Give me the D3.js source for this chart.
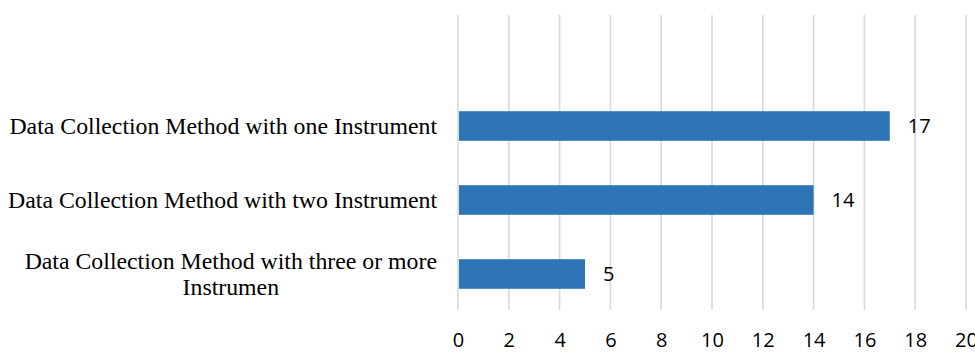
<!DOCTYPE html>
<html>
<head>
<meta charset="utf-8">
<script src="https://cdn.jsdelivr.net/npm/d3@7"></script>
<style>
  body { margin: 0; background: #fff; }
  svg { display: block; }
</style>
</head>
<body>
<script>
// data
var categories = [
    'Data Collection Method with one Instrument',
    'Data Collection Method with two Instrument',
    'Data Collection Method with three or more Instrumen'
];
var counts = [17, 14, 5];
var tickValues = [0, 2, 4, 6, 8, 10, 12, 14, 16, 18, 20];

var width = 975, height = 352;
var plotLeft = 458, plotRight = 966, plotTop = 15, plotBottom = 311;
var slotH = (plotBottom - plotTop) / 4;   // excel leaves one empty slot on top

var svg = d3.select('body').append('svg')
    .attr('width', width)
    .attr('height', height);

var x = d3.scaleLinear().domain([0, 20]).range([plotLeft, plotRight]);

var y = d3.scaleBand()
    .domain(categories)
    .range([plotTop + slotH, plotBottom])
    .paddingInner(0.6)
    .paddingOuter(0.3);

// gridlines
svg.append('g').selectAll('line').data(tickValues)
    .enter().append('line')
    .attr('x1', function(d) { return x(d) })
    .attr('x2', function(d) { return x(d) })
    .attr('y1', plotTop)
    .attr('y2', plotBottom - 1)
    .attr('stroke', '#d9d9d9')
    .attr('stroke-width', 1.6);

// x axis tick labels
var xAxis = d3.axisBottom(x).tickValues(tickValues).tickSize(0).tickPadding(0);
var gx = svg.append('g')
    .attr('transform', 'translate(0,' + 333 + ')')
    .call(xAxis);
gx.select('.domain').remove();
gx.selectAll('text')
    .attr('dy', '0.71em')
    .attr('fill', '#000')
    .style('font-family', '"Open Sans", sans-serif')
    .style('font-size', '20px');

// bars
svg.append('g').selectAll('rect').data(counts)
    .enter().append('rect')
    .attr('x', x(0) + 1)
    .attr('y', function(d, i) { return y(categories[i]) })
    .attr('width', function(d) { return x(d) - x(0) - 1 })
    .attr('height', y.bandwidth())
    .attr('fill', '#2e75b6');

// value labels
svg.append('g').selectAll('text').data(counts)
    .enter().append('text')
    .attr('x', function(d) { return x(d) + 18 })
    .attr('y', function(d, i) { return y(categories[i]) + y.bandwidth() / 2 })
    .attr('dy', '0.36em')
    .style('font-family', '"Open Sans", sans-serif')
    .style('font-size', '20px')
    .attr('fill', '#000')
    .text(function(d) { return d });

// category labels, wrapped, block right aligned, lines centred
var labelRight = 437, maxW = 440, lineH = 26;
var catG = svg.append('g')
    .style('font-family', '"Liberation Serif", "Times New Roman", serif')
    .style('font-size', '23.8px')
    .attr('fill', '#000');

categories.forEach(function(cat) {
    var t = catG.append('text').attr('text-anchor', 'middle');
    var words = cat.split(' '), lines = [], cur = [];
    var probe = t.append('tspan');
    words.forEach(function(w) {
        cur.push(w);
        probe.text(cur.join(' '));
        if (probe.node().getComputedTextLength() > maxW && cur.length > 1) {
            cur.pop();
            lines.push(cur.join(' '));
            cur = [w];
        }
    });
    lines.push(cur.join(' '));
    probe.remove();

    var blockW = 0;
    var spans = lines.map(function(l) {
        var s = t.append('tspan').text(l);
        blockW = Math.max(blockW, s.node().getComputedTextLength());
        return s;
    });
    var cy = y(cat) + y.bandwidth() / 2;
    var first = cy - (lines.length - 1) * lineH / 2 + 7.5;
    spans.forEach(function(s, i) {
        s.attr('x', labelRight - blockW / 2).attr('y', first + i * lineH);
    });
});
</script>
</body>
</html>
